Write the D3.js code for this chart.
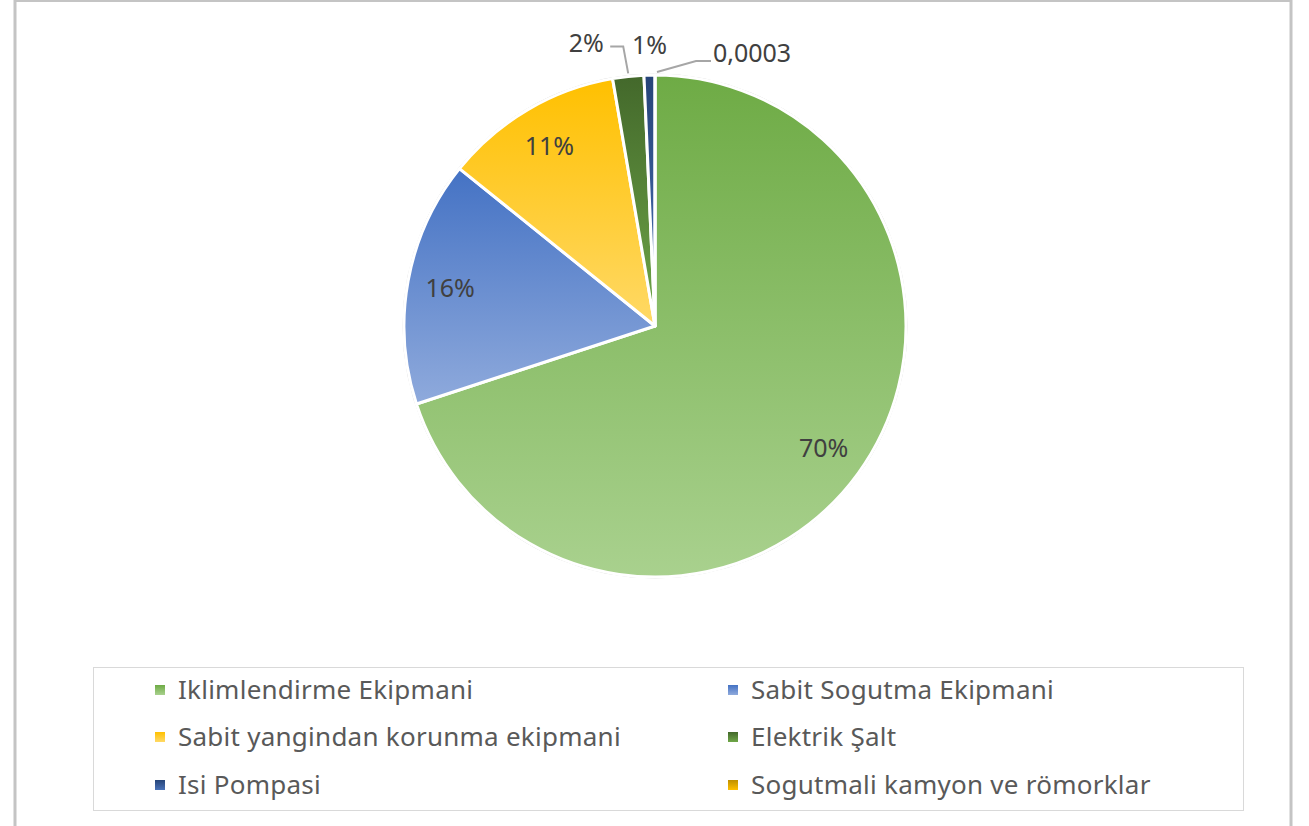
<!DOCTYPE html>
<html>
<head>
<meta charset="UTF-8">
<title></title>
<script src="https://d3js.org/d3.v7.min.js"></script>
<style>
  html, body { margin: 0; padding: 0; background: #fff; }
  text { font-family: "Noto Sans", "Open Sans", sans-serif; }
</style>
</head>
<body>
<div id="chart"></div>
<script>
// data
const categories = ["Iklimlendirme Ekipmani", "Sabit Sogutma Ekipmani", "Sabit yangindan korunma ekipmani",
                    "Elektrik Şalt", "Isi Pompasi", "Sogutmali kamyon ve römorklar"];
const values = [69.9, 15.8, 11.5, 2.0, 0.7, 0.0003];
const dataLabels = ["70%", "16%", "11%", "2%", "1%", "0,0003"];

// top / bottom colours of each slice gradient
const colorTop = ["#6EAB45", "#4472C4", "#FFC000", "#43682B", "#264478", "#BF9000"];
const colorBottom = ["#A9D18E", "#8FAADC", "#FFD966", "#6FA748", "#4A72B8", "#FFC000"];

const width = 1309, height = 826;
const cx = 655, cy = 326, radius = 251;

const svg = d3.select("#chart").append("svg").attr("width", width).attr("height", height);

// chart frame
svg.append("rect").attr("x", 15).attr("y", 0.5).attr("width", 1276).attr("height", 840)
  .attr("fill", "#fff").attr("stroke", "#c4c4c4").attr("stroke-width", 3);

const defs = svg.append("defs");
categories.forEach((c, i) => {
  const g = defs.append("linearGradient").attr("id", "grad" + i)
    .attr("x1", 0).attr("y1", 0).attr("x2", 0).attr("y2", 1);
  g.append("stop").attr("offset", "0%").attr("stop-color", colorTop[i]);
  g.append("stop").attr("offset", "100%").attr("stop-color", colorBottom[i]);
});

const pie = d3.pie().sort(null).value(d => d);
const arcs = pie(values);
const arc = d3.arc().innerRadius(0).outerRadius(radius);
const labelArc = d3.arc().innerRadius(radius * 0.83).outerRadius(radius * 0.83);
const edgeArc = d3.arc().innerRadius(radius).outerRadius(radius);

const gPie = svg.append("g").attr("transform", `translate(${cx},${cy})`);

gPie.append("circle").attr("r", radius + 1).attr("fill", "none").attr("stroke", "#d0d0d0").attr("stroke-width", 1);

gPie.selectAll("path.slice").data(arcs).enter().append("path")
  .attr("class", "slice")
  .attr("d", arc)
  .attr("fill", (d, i) => `url(#grad${i})`)
  .attr("stroke", "#fff").attr("stroke-width", 3).attr("stroke-linejoin", "round");

// labels inside the big slices
const inside = arcs.filter(d => (d.endAngle - d.startAngle) > 0.3);
gPie.selectAll("text.inside").data(inside).enter().append("text")
  .attr("class", "inside")
  .attr("transform", d => `translate(${labelArc.centroid(d)})`)
  .attr("text-anchor", "middle").attr("dy", "0.35em")
  .attr("font-size", 25).attr("fill", "#404040")
  .text(d => dataLabels[d.index]);

// callout labels for the thin slices: offset of the label from the slice edge point
const callout = { 3: { dx: -42, dy: -33, lead: true }, 4: { dx: 0, dy: -30, lead: false }, 5: { dx: 97, dy: -22, lead: true } };
const outside = arcs.filter(d => callout[d.index]);
outside.forEach(d => {
  const p = edgeArc.centroid(d);
  const o = callout[d.index];
  const lx = p[0] + o.dx, ly = p[1] + o.dy;
  gPie.append("text")
    .attr("x", lx).attr("y", ly).attr("dy", "0.35em")
    .attr("text-anchor", "middle")
    .attr("font-size", 25).attr("fill", "#404040")
    .text(dataLabels[d.index]);
  if (o.lead) {
    let pts;
    if (d.index === 3) pts = [[lx + 24, ly + 3], [lx + 37, ly + 3], [p[0], p[1] - 3]];
    else pts = [[lx - 41, ly + 8], [lx - 56, ly + 8], [p[0] + 2, p[1] - 3]];
    gPie.append("path").attr("d", d3.line()(pts))
      .attr("fill", "none").attr("stroke", "#a6a6a6").attr("stroke-width", 2);
  }
});

// legend
const legendBox = { x: 93.5, y: 667.5, w: 1150, h: 143 };
svg.append("rect").attr("x", legendBox.x).attr("y", legendBox.y)
  .attr("width", legendBox.w).attr("height", legendBox.h)
  .attr("fill", "none").attr("stroke", "#d9d9d9").attr("stroke-width", 1);

const colX = [155, 728], rowY = [690, 737, 785];
const legend = svg.selectAll("g.legend").data(categories).enter().append("g")
  .attr("class", "legend")
  .attr("transform", (d, i) => `translate(${colX[i % 2]},${rowY[Math.floor(i / 2)]})`);
legend.append("rect").attr("x", 0).attr("y", -5).attr("width", 10).attr("height", 10)
  .attr("fill", (d, i) => `url(#grad${i})`);
legend.append("text").attr("x", 23).attr("dy", "0.35em")
  .attr("font-size", 26).attr("letter-spacing", 0.25).attr("fill", "#595959")
  .text(d => d);
</script>
</body>
</html>
